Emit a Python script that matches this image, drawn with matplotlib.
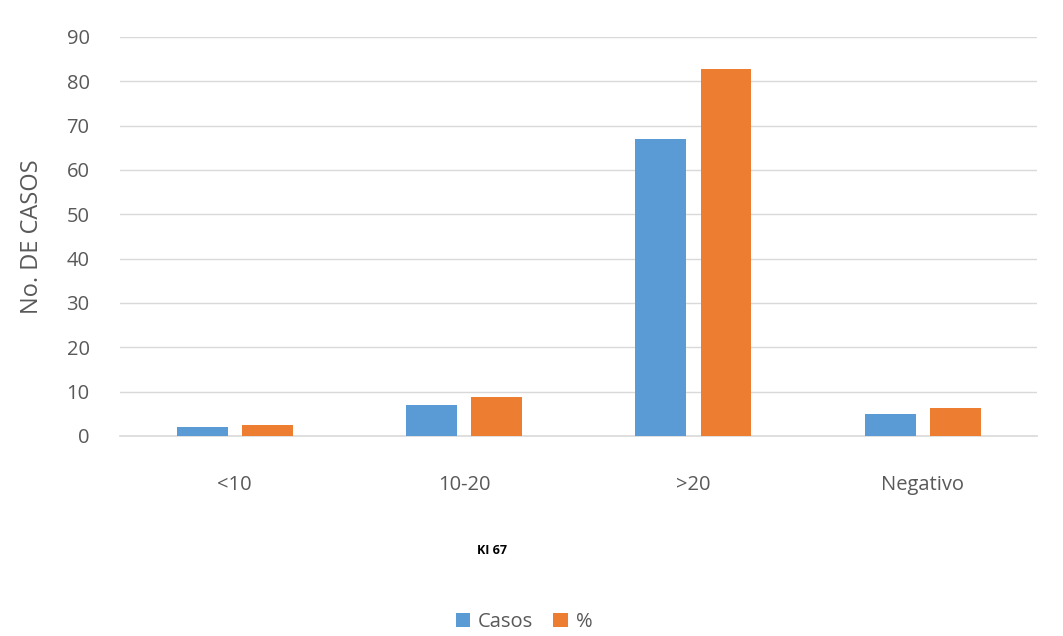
import matplotlib
matplotlib.use("Agg")
import matplotlib.pyplot as plt
import numpy as np

categories = ["<10", "10-20", ">20", "Negativo"]
casos = [2, 7, 67, 5]
porcentaje = [2.5, 8.7, 82.7, 6.2]
series_names = ["Casos", "%"]
yticks = list(range(0, 100, 10))

plt.rcParams['font.family'] = ['Open Sans', 'DejaVu Sans']

fig = plt.figure(figsize=(10.63, 6.36), dpi=100)
ax = fig.add_axes([0.113, 0.3145, 0.863, 0.6275])

x = np.arange(len(categories))
w = 0.222
off = 0.142
ax.bar(x - off, casos, w, color="#5B9BD5", label=series_names[0], zorder=3)
ax.bar(x + off, porcentaje, w, color="#ED7D31", label=series_names[1], zorder=3)

ax.set_xlim(-0.5, len(categories) - 0.5)
ax.set_ylim(0, 90)
ax.set_yticks(yticks)
ax.set_xticks(x)
ax.set_xticklabels(categories)
ax.tick_params(axis='both', length=0, labelsize=14.5, colors="#595959")
ax.tick_params(axis='y', pad=22)
ax.tick_params(axis='x', pad=28)
ax.grid(axis='y', color="#d9d9d9", linewidth=1, zorder=0)
for s in ["top", "right", "left"]:
    ax.spines[s].set_visible(False)
ax.spines["bottom"].set_color("#d9d9d9")
ax.spines["bottom"].set_linewidth(1.2)

ax.set_ylabel("No. DE CASOS", fontsize=17, color="#595959", labelpad=16)

fig.text(0.463, 0.135, "KI 67", fontsize=9, fontweight='bold', color="#000000",
         ha='center', va='center')

leg = fig.legend(loc='center', bbox_to_anchor=(0.493, 0.022), ncol=2, frameon=False,
                 fontsize=14.5, handlelength=0.7, handleheight=0.7, handletextpad=0.4,
                 columnspacing=1.0, labelcolor="#595959")

fig.savefig("out.png", dpi=100)
